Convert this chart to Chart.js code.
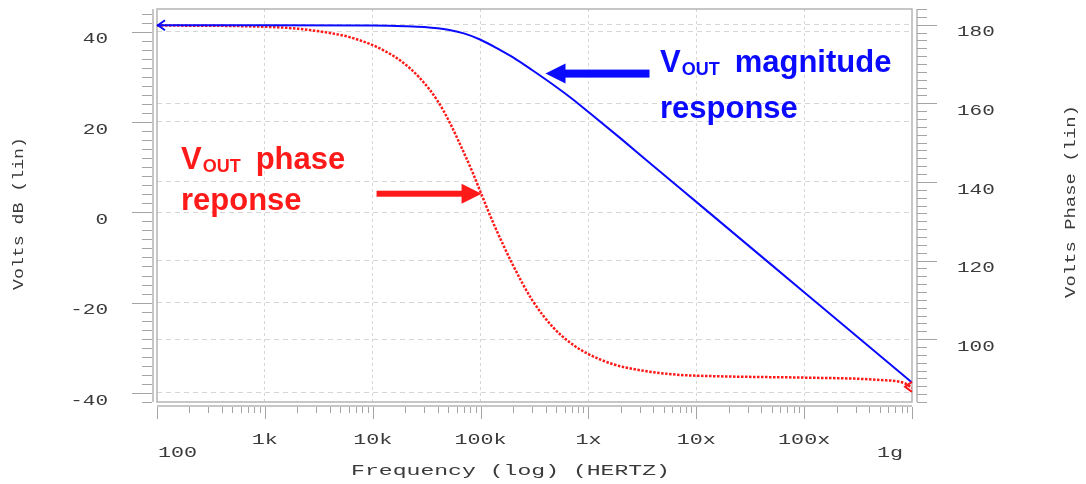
<!DOCTYPE html>
<html>
<head>
<meta charset="utf-8">
<title>Vout Bode plot</title>
<script src="https://cdn.jsdelivr.net/npm/chart.js@4"></script>
<style>
  html, body { margin: 0; background: #fff; }
  #wrap { width: 1086px; height: 484px; position: relative; }
</style>
</head>
<body>
<div id="wrap"><canvas id="bode"></canvas></div>
<script>
// Magnitude sweep: frequency (Hz) and gain (dB)
const magFreq = [1e2, 1e3, 1e4, 2e4, 3e4, 5e4, 7e4, 1e5, 1.5e5, 2e5, 3e5, 5e5, 7e5, 1e6, 2e6, 5e6, 1e7, 1e8, 1e9];
const magDb   = [41.4, 41.4, 41.35, 41.2, 41.0, 40.4, 39.6, 38.2, 36.0, 34.3, 31.5, 27.8, 25.2, 22.2, 16.3, 8.3, 2.3, -17.7, -37.7];

// Phase sweep: frequency (Hz) and phase (degrees)
const phaseFreq = [1e2, 7e2, 2e3, 4e3, 6e3, 1e4, 1.4e4, 1.8e4, 2.7e4, 4e4, 5.2e4, 6.8e4, 8.5e4, 1e5, 1.3e5, 2e5, 3e5, 4.7e5, 7e5, 1e6, 1.7e6, 3.5e6, 7e6, 1e7, 3e7, 1e8, 5e8, 8.5e8, 1e9];
const phaseDeg  = [179.8, 179.6, 179.0, 177.9, 176.9, 174.8, 172.8, 170.9, 166.6, 160.6, 155.0, 148.2, 142.2, 137.4, 129.8, 118.8, 110.0, 103.0, 98.8, 96.2, 93.6, 91.8, 90.9, 90.7, 90.4, 90.2, 89.6, 88.8, 87.6];

// Axis ticks
const freqTicks = [1e2, 1e3, 1e4, 1e5, 1e6, 1e7, 1e8, 1e9];
const freqTickLabels = ['100', '1k', '10k', '100k', '1x', '10x', '100x', '1g'];
const dbTicks = [-40, -20, 0, 20, 40];
const phaseTicks = [100, 120, 140, 160, 180];

const monoFont = "'Liberation Mono', 'Courier New', monospace";
const calloutFont = "'Liberation Sans', Arial, Helvetica, sans-serif";
const textColor = '#3a3a3a';
const gridColor = '#d6d6d6';
const frameColor = '#b4b4b4';
const axisColor = '#c6c6c6';
const tickColor = '#a4a4a4';
const magColor = '#0a0aff';
const phaseColor = '#ff1a1a';

function line(ctx, x1, y1, x2, y2) {
  ctx.beginPath();
  ctx.moveTo(x1, y1);
  ctx.lineTo(x2, y2);
  ctx.stroke();
}

// the plotter's font is a wide monospace, so text is stretched sideways
function wideText(ctx, text, x, y, align, sx, angle) {
  ctx.save();
  ctx.translate(x, y);
  if (angle) ctx.rotate(angle);
  ctx.scale(sx, 1);
  ctx.textAlign = align;
  ctx.fillText(text, 0, 0);
  ctx.restore();
}

function noPadding(s) {
  s.paddingTop = 0;
  s.paddingBottom = 0;
  s.paddingLeft = 0;
  s.paddingRight = 0;
}

// frame, offset axis lines, tick marks, tick labels and axis titles
const axisDecor = {
  id: 'axisDecor',
  beforeDatasetsDraw(chart) {
    const { ctx, chartArea: a, scales } = chart;
    const xs = scales.x, yl = scales.yDb, yr = scales.yPh;
    ctx.save();
    ctx.strokeStyle = frameColor;
    ctx.lineWidth = 1.5;
    ctx.strokeRect(a.left, a.top, a.right - a.left, a.bottom - a.top);

    ctx.strokeStyle = axisColor;
    ctx.lineWidth = 2;
    line(ctx, a.left - 4, a.top, a.left - 4, a.bottom);
    line(ctx, a.right + 5, a.top, a.right + 5, a.bottom);
    line(ctx, a.left, a.bottom + 4, a.right, a.bottom + 4);

    ctx.strokeStyle = tickColor;
    ctx.lineWidth = 1;
    for (let v = -42; v <= yl.max; v += 2) {
      const y = Math.round(yl.getPixelForValue(v)) + 0.5;
      const len = v % 20 === 0 ? 20 : 10;
      line(ctx, a.left - 5 - len, y, a.left - 5, y);
    }
    for (let v = 84; v <= yr.max; v += 2) {
      const y = Math.round(yr.getPixelForValue(v)) + 0.5;
      const len = v % 20 === 0 ? 20 : 10;
      line(ctx, a.right + 5, y, a.right + 5 + len, y);
    }
    for (let d = 1e2; d <= 1e9; d *= 10) {
      for (let m = 1; m <= 9; m++) {
        const f = d * m;
        if (f > 1e9) break;
        const x = Math.round(xs.getPixelForValue(f)) + 0.5;
        line(ctx, x, a.bottom + 5, x, a.bottom + (m === 1 ? 17 : 11));
      }
    }

    ctx.fillStyle = textColor;
    ctx.textBaseline = 'middle';
    ctx.font = '14px ' + monoFont;
    yl.ticks.forEach(t => {
      wideText(ctx, String(t.value), a.left - 49, yl.getPixelForValue(t.value) + 8, 'right', 1.5);
    });
    yr.ticks.forEach(t => {
      wideText(ctx, String(t.value), a.right + 45, yr.getPixelForValue(t.value) + 8, 'left', 1.5);
    });
    const last = freqTicks.length - 1;
    freqTicks.forEach((f, i) => {
      const x = xs.getPixelForValue(f);
      if (i === 0) wideText(ctx, freqTickLabels[i], x + 1, a.bottom + 51, 'left', 1.55);
      else if (i === last) wideText(ctx, freqTickLabels[i], x - 9, a.bottom + 51, 'right', 1.55);
      else wideText(ctx, freqTickLabels[i], x, a.bottom + 38.5, 'center', 1.55);
    });

    ctx.font = '15px ' + monoFont;
    wideText(ctx, 'Frequency (log) (HERTZ)', (a.left + a.right) / 2 - 24, 471, 'center', 1.54);
    ctx.font = '14px ' + monoFont;
    wideText(ctx, 'Volts dB (lin)', 19, (a.top + a.bottom) / 2 + 8, 'center', 1.3, -Math.PI / 2);
    wideText(ctx, 'Volts Phase (lin)', 1071, (a.top + a.bottom) / 2 - 4, 'center', 1.35, -Math.PI / 2);
    ctx.restore();
  }
};

// dir = -1: head on the left, shaft running right; dir = 1: head on the right
function arrow(ctx, tipX, tipY, dir, length, shaft, headLen, headH, color) {
  const baseX = tipX - dir * headLen;
  const tailX = tipX - dir * length;
  ctx.fillStyle = color;
  ctx.fillRect(Math.min(baseX, tailX) - 1, tipY - shaft / 2, Math.abs(tailX - baseX) + 2, shaft);
  ctx.beginPath();
  ctx.moveTo(tipX, tipY);
  ctx.lineTo(baseX, tipY - headH / 2);
  ctx.lineTo(baseX, tipY + headH / 2);
  ctx.closePath();
  ctx.fill();
}

function voutLabel(ctx, x, y, word, line2, gap, color) {
  ctx.fillStyle = color;
  ctx.textAlign = 'left';
  ctx.textBaseline = 'alphabetic';
  ctx.font = 'bold 31px ' + calloutFont;
  ctx.fillText('V', x, y);
  let w = ctx.measureText('V').width;
  ctx.font = 'bold 18px ' + calloutFont;
  ctx.fillText('OUT', x + w + 1, y + 2.5);
  w += ctx.measureText('OUT').width;
  ctx.font = 'bold 31px ' + calloutFont;
  ctx.fillText(word, x + w + 16, y);
  ctx.fillText(line2, x, y + gap);
}

function chevron(ctx, x, y, color) {
  ctx.strokeStyle = color;
  ctx.lineWidth = 2;
  ctx.beginPath();
  ctx.moveTo(x + 8, y - 5);
  ctx.lineTo(x + 1, y);
  ctx.lineTo(x + 8, y + 5);
  ctx.stroke();
}

// call-out arrows and labels, plus the end markers of each trace
const callouts = {
  id: 'callouts',
  afterDatasetsDraw(chart) {
    const { ctx, scales } = chart;
    const xs = scales.x, yl = scales.yDb, yr = scales.yPh;
    ctx.save();

    chevron(ctx, xs.getPixelForValue(magFreq[0]), yl.getPixelForValue(magDb[0]), magColor);
    const n = phaseFreq.length - 1;
    chevron(ctx, xs.getPixelForValue(phaseFreq[n]) - 8, yr.getPixelForValue(phaseDeg[n]) - 1, phaseColor);

    arrow(ctx, xs.getPixelForValue(1e5) + 1, yr.getPixelForValue(137), 1, 104, 6, 20, 20, phaseColor);
    arrow(ctx, xs.getPixelForValue(4e5), yl.getPixelForValue(30.7), -1, 103, 8, 20, 20, magColor);

    voutLabel(ctx, 181, 169, 'phase', 'reponse', 41, phaseColor);
    voutLabel(ctx, 660, 72, 'magnitude', 'response', 45.5, magColor);
    ctx.restore();
  }
};

new Chart(document.getElementById('bode'), {
  type: 'line',
  data: {
    datasets: [{
      label: 'Vout magnitude',
      data: magFreq.map((f, i) => ({ x: f, y: magDb[i] })),
      yAxisID: 'yDb',
      borderColor: magColor,
      borderWidth: 2,
      pointRadius: 0,
      cubicInterpolationMode: 'monotone'
    }, {
      label: 'Vout phase',
      data: phaseFreq.map((f, i) => ({ x: f, y: phaseDeg[i] })),
      yAxisID: 'yPh',
      borderColor: phaseColor,
      borderWidth: 2.5,
      borderDash: [2.5, 1.5],
      pointRadius: 0,
      cubicInterpolationMode: 'monotone'
    }]
  },
  options: {
    responsive: true,
    maintainAspectRatio: false,
    animation: false,
    layout: { padding: { top: 9, left: 0, right: 0, bottom: 0 } },
    scales: {
      x: {
        type: 'logarithmic',
        min: 1e2,
        max: 1e9,
        afterBuildTicks: s => { s.ticks = freqTicks.map(v => ({ value: v })); },
        afterFit: s => { s.height = 82; noPadding(s); },
        ticks: { display: false },
        grid: {
          drawTicks: false,
          color: c => (c.tick && (c.tick.value === 1e2 || c.tick.value === 1e9)) ? 'transparent' : gridColor
        },
        border: { display: false, dash: [3, 3] }
      },
      yDb: {
        type: 'linear',
        position: 'left',
        min: -42,
        max: 45,
        afterBuildTicks: s => { s.ticks = dbTicks.map(v => ({ value: v })); },
        afterFit: s => { s.width = 157; noPadding(s); },
        ticks: { display: false },
        grid: { drawTicks: false, color: gridColor },
        border: { display: false, dash: [5, 4] }
      },
      yPh: {
        type: 'linear',
        position: 'right',
        min: 84,
        max: 184,
        afterBuildTicks: s => { s.ticks = phaseTicks.map(v => ({ value: v })); },
        afterFit: s => { s.width = 174; noPadding(s); },
        ticks: { display: false },
        grid: { drawTicks: false, color: gridColor },
        border: { display: false, dash: [5, 4] }
      }
    },
    plugins: {
      legend: { display: false },
      tooltip: { enabled: false }
    }
  },
  plugins: [axisDecor, callouts]
});
</script>
</body>
</html>
